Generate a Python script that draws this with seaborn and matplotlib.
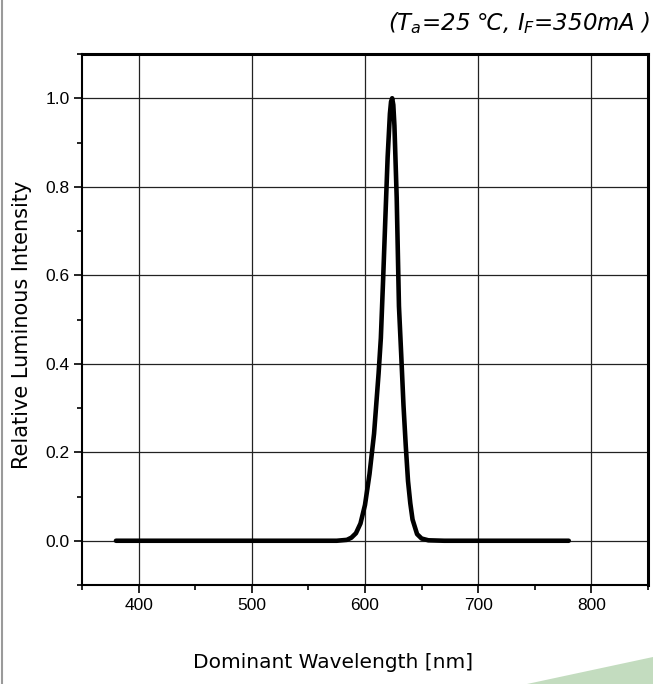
"""
Relative luminous intensity vs. dominant wavelength (red LED spectrum).
"""
import numpy as np
import pandas as pd
import matplotlib
matplotlib.use("Agg")
import matplotlib.pyplot as plt
from matplotlib.lines import Line2D
from matplotlib.patches import Polygon
from matplotlib.ticker import MultipleLocator
import seaborn as sns

sns.set_style("ticks")
plt.rcParams['font.family'] = ['DejaVu Sans']
plt.rcParams['mathtext.fontset'] = 'dejavusans'
for key in ['text.color', 'axes.labelcolor', 'xtick.color', 'ytick.color']:
    plt.rcParams[key] = 'black'

# spectrum
wavelength = [380, 450, 500, 550, 575, 584, 588, 592, 596, 600, 604, 608, 612,
              614, 616, 618, 620, 622, 623, 624, 625, 626, 628, 630, 632, 634,
              636, 638, 640, 642, 646, 650, 656, 670, 700, 780]
intensity = [0.0, 0.0, 0.0, 0.0, 0.0, 0.002, 0.007, 0.017, 0.039, 0.081, 0.151,
             0.242, 0.378, 0.458, 0.59, 0.73, 0.867, 0.965, 0.992, 1.0, 0.985,
             0.938, 0.775, 0.53, 0.42, 0.306, 0.215, 0.135, 0.085, 0.048,
             0.015, 0.005, 0.001, 0.0, 0.0, 0.0]

x_ticks = [400, 500, 600, 700, 800]
y_ticks = [0.0, 0.2, 0.4, 0.6, 0.8, 1.0]

df = pd.DataFrame({"wl": wavelength, "rel": intensity})

fig = plt.figure(figsize=(6.53, 6.84), dpi=100)
ax = fig.add_axes([82 / 653, 1 - 585 / 684, 566 / 653, 531 / 684])

sns.lineplot(data=df, x="wl", y="rel", ax=ax, color="black", linewidth=3.3,
             solid_joinstyle="round", zorder=3)

ax.set_xlim(350, 850)
ax.set_ylim(-0.1, 1.1)
ax.set_xticks(x_ticks)
ax.set_yticks(y_ticks)
ax.set_xticklabels([str(t) for t in x_ticks], family="Liberation Sans", fontsize=12.5)
ax.set_yticklabels([f"{t:.1f}" for t in y_ticks], family="Liberation Sans", fontsize=12.5)
ax.xaxis.set_minor_locator(MultipleLocator(50))
ax.yaxis.set_minor_locator(MultipleLocator(0.1))
ax.tick_params(which="major", direction="out", length=6, width=1.2, color="black", pad=3)
ax.tick_params(which="minor", direction="out", length=3.5, width=1.2, color="black")
ax.grid(True, which="major", color="#222222", linewidth=0.9)

for side in ["left", "bottom", "top", "right"]:
    ax.spines[side].set_visible(True)
    ax.spines[side].set_color("black")
    ax.spines[side].set_linewidth(1.5)
ax.spines["right"].set_linewidth(2.2)
ax.spines["top"].set_linewidth(2.2)

ax.set_xlabel("Dominant Wavelength [nm]", fontsize=14.5)
ax.set_ylabel("Relative Luminous Intensity", fontsize=15)
ax.xaxis.set_label_coords(251 / 566, -68 / 531)
ax.yaxis.set_label_coords(-50 / 566, 0.49)

fig.text(0.996, 0.967, r"($T_a$=25 ℃, $I_F$=350mA )", ha="right", va="center",
         fontsize=16.5, style="italic")

# page decorations
fig.add_artist(Line2D([1.5 / 653, 1.5 / 653], [0, 1], color="#9a9a9a", linewidth=1.5))
fig.add_artist(Polygon([[527 / 653, 0], [1, 27 / 684], [1, 0]], closed=True,
                       facecolor="#c3dcbf", edgecolor="none", transform=fig.transFigure))

fig.savefig("out.png", dpi=100)
